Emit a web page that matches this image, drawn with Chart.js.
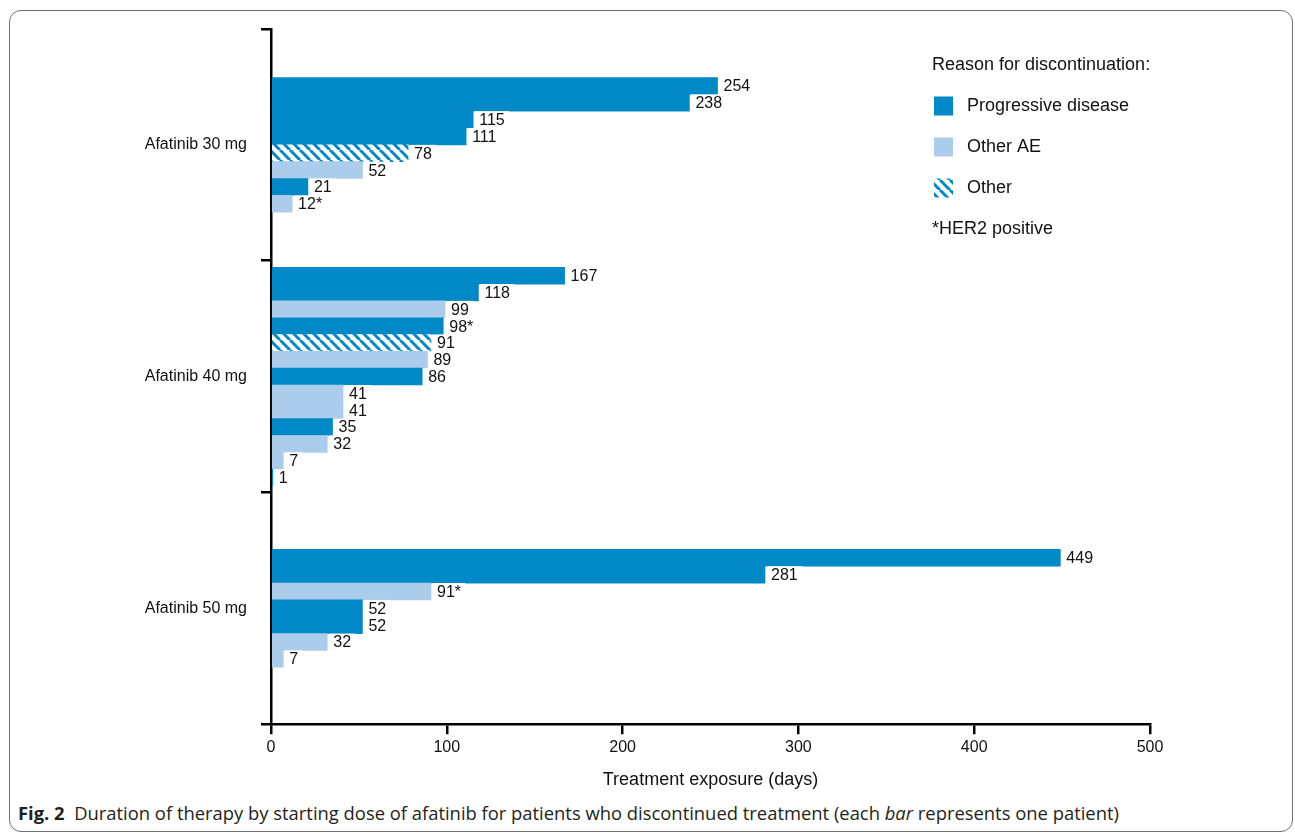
<!DOCTYPE html>
<html>
<head>
<meta charset="utf-8">
<script src="https://cdn.jsdelivr.net/npm/chart.js@4.4.1/dist/chart.umd.min.js"></script>
<style>
  html, body { margin: 0; padding: 0; background: #fff; }
  body { width: 1295px; height: 833px; position: relative; overflow: hidden; }
  .frame { position: absolute; left: 9px; top: 10px; width: 1284px; height: 822px;
           border: 1px solid #6d6e71; border-radius: 12px; box-sizing: border-box; }
  #chart { position: absolute; left: 0; top: 0; }
  .caption { position: absolute; left: 18px; top: 800px; font-family: 'Open Sans', sans-serif;
             font-size: 18.4px; line-height: 26px; color: #231f20; white-space: nowrap; }
</style>
</head>
<body>
<div class="frame"></div>
<canvas id="chart" width="1295" height="800"></canvas>
<div class="caption"><b>Fig. 2</b>&nbsp; Duration of therapy by starting dose of afatinib for patients who discontinued treatment (each <i>bar</i> represents one patient)</div>
<script>
// one entry per patient, top to bottom within each dose group
const doseLabels = ['Afatinib 30 mg', 'Afatinib 40 mg', 'Afatinib 50 mg'];

const days30 = [254, 238, 115, 111, 78, 52, 21, 12];
const reasons30 = ['PD', 'PD', 'PD', 'PD', 'Other', 'AE', 'PD', 'AE'];
const her2_30 = [false, false, false, false, false, false, false, true];

const days40 = [167, 118, 99, 98, 91, 89, 86, 41, 41, 35, 32, 7, 1];
const reasons40 = ['PD', 'PD', 'AE', 'PD', 'Other', 'AE', 'PD', 'AE', 'AE', 'PD', 'AE', 'AE', 'PD'];
const her2_40 = [false, false, false, true, false, false, false, false, false, false, false, false, false];

const days50 = [449, 281, 91, 52, 52, 32, 7];
const reasons50 = ['PD', 'PD', 'AE', 'PD', 'PD', 'AE', 'AE'];
const her2_50 = [false, false, true, false, false, false, false];

const xTicks = [0, 100, 200, 300, 400, 500];

const legendTitle = 'Reason for discontinuation:';
const legendKeys = ['PD', 'AE', 'Other'];
const reasonNames = { PD: 'Progressive disease', AE: 'Other AE', Other: 'Other' };
const footnote = '*HER2 positive';

const FONT = '"Liberation Sans", Arial, Helvetica, sans-serif';
Chart.defaults.font.family = FONT;
Chart.defaults.color = '#000';

function makeHatch(color) {
  const c = document.createElement('canvas');
  c.width = 10; c.height = 10;
  const g = c.getContext('2d');
  g.fillStyle = '#fff';
  g.fillRect(0, 0, 10, 10);
  g.strokeStyle = color;
  g.lineWidth = 3;
  for (const k of [-10, 0, 10]) {
    g.beginPath();
    g.moveTo(k, 0);
    g.lineTo(k + 10, 10);
    g.stroke();
  }
  return g.createPattern(c, 'repeat');
}

const fills = { PD: '#0089c6', AE: '#abcdeb', Other: makeHatch('#0089c6') };

const groups = [
  { days: days30, reasons: reasons30, her2: her2_30 },
  { days: days40, reasons: reasons40, her2: her2_40 },
  { days: days50, reasons: reasons50, her2: her2_50 }
];

// each dose group takes one unit on the y scale, patients are stacked rows centred in it
const rowSize = 0.0726;
function groupPoints(days, g) {
  const n = days.length;
  return days.map((d, j) => ({ x: d, y: g + 0.5 + (j - (n - 1) / 2) * rowSize }));
}

const valueLabels = {
  id: 'valueLabels',
  afterDatasetsDraw(chart) {
    const ctx = chart.ctx;
    ctx.save();
    ctx.font = '16px ' + FONT;
    ctx.textBaseline = 'middle';
    chart.data.datasets.forEach((ds, i) => {
      chart.getDatasetMeta(i).data.forEach((bar, j) => {
        const txt = ds.data[j].x + (ds.her2[j] ? '*' : '');
        const w = ctx.measureText(txt).width;
        ctx.fillStyle = '#fff';
        ctx.fillRect(bar.x + 1.5, bar.y - bar.height / 2, w + 9, bar.height);
        ctx.fillStyle = '#111';
        ctx.fillText(txt, bar.x + 6, bar.y + 1);
      });
    });
    ctx.restore();
  }
};

const reasonLegend = {
  id: 'reasonLegend',
  afterDraw(chart) {
    const ctx = chart.ctx;
    const a = chart.chartArea;
    const x0 = a.right - 218;
    const y0 = a.top + 36;
    ctx.save();
    ctx.font = '18px ' + FONT;
    ctx.textBaseline = 'middle';
    ctx.textAlign = 'left';
    ctx.fillStyle = '#111';
    ctx.fillText(legendTitle, x0, y0);
    legendKeys.forEach((k, i) => {
      const cy = y0 + 41 * (i + 1);
      ctx.fillStyle = fills[k];
      ctx.fillRect(x0 + 2, cy - 9.5, 19, 19);
      ctx.fillStyle = '#111';
      ctx.fillText(reasonNames[k], x0 + 35, cy);
    });
    ctx.fillText(footnote, x0, y0 + 41 * 4);
    ctx.restore();
  }
};

const groupTicks = [];
for (let v = 0; v <= doseLabels.length * 2; v++) groupTicks.push(v / 2);

new Chart(document.getElementById('chart'), {
  type: 'bar',
  data: {
    datasets: groups.map((grp, g) => ({
      label: doseLabels[g],
      data: groupPoints(grp.days, g),
      her2: grp.her2,
      backgroundColor: grp.reasons.map(r => fills[r]),
      borderWidth: 0,
      grouped: false,
      barPercentage: 1,
      categoryPercentage: 1
    }))
  },
  options: {
    indexAxis: 'y',
    responsive: false,
    animation: false,
    layout: { padding: { top: 29, right: 145, bottom: 9, left: 0 } },
    plugins: { legend: { display: false }, tooltip: { enabled: false } },
    scales: {
      y: {
        type: 'linear',
        min: 0,
        max: doseLabels.length,
        reverse: true,
        offset: false,
        afterBuildTicks: s => { s.ticks = groupTicks.map(v => ({ value: v })); },
        afterFit: s => { s.width = 271; },
        border: { color: '#000', width: 2.5 },
        grid: {
          offset: false,
          drawOnChartArea: false,
          drawTicks: true,
          tickLength: 10,
          lineWidth: 2.5,
          color: c => (c.tick && c.tick.value % 1 === 0) ? '#000' : 'rgba(0,0,0,0)'
        },
        ticks: {
          autoSkip: false,
          padding: 14,
          color: '#111',
          font: { size: 16 },
          callback: v => (v % 1 ? doseLabels[Math.floor(v)] : '')
        }
      },
      x: {
        type: 'linear',
        min: 0,
        max: 500,
        offset: false,
        afterBuildTicks: s => { s.ticks = xTicks.map(v => ({ value: v })); },
        border: { color: '#000', width: 2.5 },
        grid: { offset: false, drawOnChartArea: false, drawTicks: true, tickLength: 10, lineWidth: 2.5, color: '#000' },
        ticks: { padding: 4, color: '#111', font: { size: 16 } },
        title: {
          display: true,
          text: 'Treatment exposure (days)',
          color: '#111',
          font: { size: 18 },
          padding: { top: 8, bottom: 0 }
        }
      }
    }
  },
  plugins: [valueLabels, reasonLegend]
});
</script>
</body>
</html>
